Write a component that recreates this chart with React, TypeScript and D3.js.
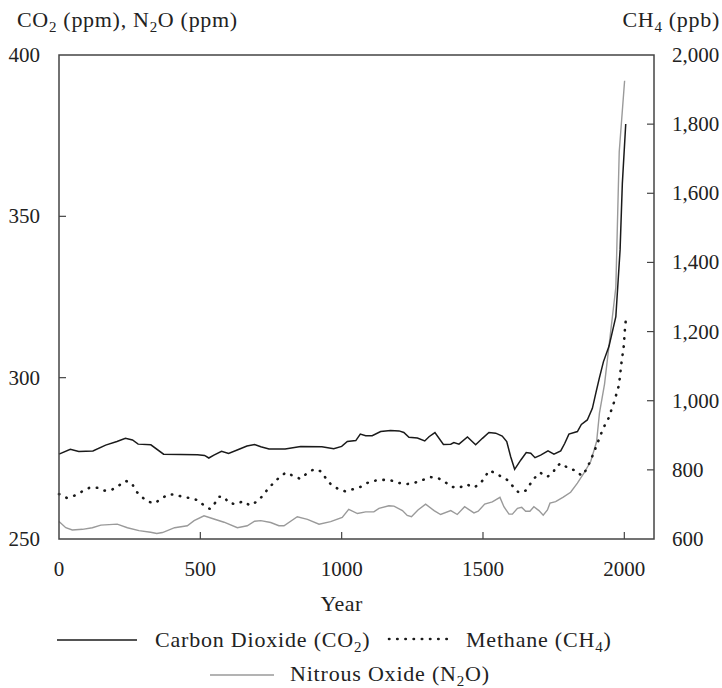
import React from "react";
import * as d3 from "d3";

const co2Years = [0,40,70,120,165,205,235,260,280,325,370,490,515,530,548,575,600,637,665,692,714,743,800,855,930,972,1000,1020,1050,1066,1085,1108,1138,1173,1203,1220,1238,1268,1294,1309,1330,1360,1386,1397,1415,1445,1474,1498,1521,1545,1568,1584,1598,1612,1634,1653,1669,1684,1704,1730,1751,1775,1789,1804,1834,1848,1869,1887,1900,1912,1926,1946,1970,1985,1993,2005];
const co2Values = [276.3,277.8,277.1,277.3,279.1,280.2,281.2,280.7,279.4,279.2,276.3,276.1,275.9,275.1,276,277.2,276.5,277.8,278.8,279.3,278.6,277.9,277.9,278.7,278.6,278,278.7,280.2,280.5,282.5,282,282,283.3,283.6,283.5,283,281.5,281.3,280.4,281.7,283,279.3,279.4,279.9,279.4,281.6,279.2,281.2,283,282.8,281.9,280.2,275.5,271.6,274.5,276.8,276.6,275.2,276,277.3,276.3,277.3,279.6,282.5,283.3,285.5,286.9,290.5,295.5,300,304.9,309.8,318.9,339.6,360.2,378.6];

const ch4Years = [0,27,56,83,110,136,162,186,212,236,258,271,289,313,336,360,383,409,437,466,492,513,534,551,566,584,601,625,651,676,702,722,739,758,778,802,828,853,876,902,926,943,961,985,1012,1040,1067,1093,1120,1148,1176,1203,1232,1259,1288,1315,1341,1364,1388,1415,1442,1468,1489,1507,1521,1541,1566,1590,1607,1627,1651,1666,1683,1702,1728,1749,1761,1777,1801,1828,1849,1867,1887,1905,1920,1934,1946,1954,1963,1972,1981,1990,1998,2002,2005];
const ch4Values = [730,719,726,738,749,748,740,742,755,768,761,740,724,709,703,715,728,729,722,718,712,697,687,703,722,722,704,701,709,697,709,726,745,761,777,792,783,774,789,802,796,777,759,746,738,744,751,763,769,771,769,762,759,763,771,779,776,766,751,748,758,749,759,779,798,792,780,769,751,734,740,758,777,792,780,794,812,819,805,798,783,802,840,877,909,935,952,973,994,1019,1045,1110,1158,1205,1231];

const n2oYears = [0,24,47,83,118,148,206,242,283,324,346,366,409,454,478,513,548,584,631,666,692,714,749,778,796,843,879,920,961,1002,1025,1056,1085,1114,1132,1167,1185,1215,1232,1247,1270,1297,1327,1350,1386,1409,1435,1468,1483,1506,1533,1560,1574,1592,1604,1622,1637,1651,1666,1680,1698,1713,1728,1737,1757,1784,1810,1834,1857,1881,1902,1912,1930,1970,1982,2001];
const n2oValues = [255.4,253.5,252.8,253,253.5,254.3,254.6,253.5,252.6,252.1,251.7,252,253.5,254.1,255.7,257.2,256.2,255.2,253.5,254.1,255.5,255.7,255.1,254.1,254.1,256.9,256.1,254.6,255.4,256.7,259.2,257.9,258.4,258.4,259.5,260.3,260.2,258.8,257.3,256.9,259,260.8,258.8,257.6,258.8,257.6,260,258.1,258.6,260.8,261.5,262.9,260,257.7,257.7,259.5,259.8,258.6,258.6,260,258.8,257.4,259,261.1,261.6,263,264.5,267.3,270.4,274,280.2,289,298,328,370,392];

const xTicks = [0, 500, 1000, 1500, 2000];
const leftTicks = [250, 300, 350, 400];
const rightTicks = [600, 800, 1000, 1200, 1400, 1600, 1800, 2000];

const FONT = "'Liberation Serif', 'Times New Roman', serif";

export default function App() {
  const left = 59, right = 654, top = 55, bottom = 539;
  const x = d3.scaleLinear().domain([0, 2105]).range([left, right]);
  const yL = d3.scaleLinear().domain([250, 400]).range([bottom, top]);
  const yR = d3.scaleLinear().domain([600, 2000]).range([bottom, top]);

  const co2 = co2Years.map((yr, i) => [yr, co2Values[i]] as [number, number]);
  const ch4 = ch4Years.map((yr, i) => [yr, ch4Values[i]] as [number, number]);
  const n2o = n2oYears.map((yr, i) => [yr, n2oValues[i]] as [number, number]);

  const lineL = d3.line<[number, number]>().x(d => x(d[0])).y(d => yL(d[1]));
  const lineR = d3.line<[number, number]>().x(d => x(d[0])).y(d => yR(d[1]));
  const fmt = d3.format(",");
  const axisColor = "#444";
  const tickLen = 7;

  return (
    <svg width={722} height={688} style={{ position: "absolute", left: 0, top: 0 }} fontFamily={FONT}>
      <rect x={0} y={0} width={722} height={688} fill="#fff" />
      {/* titles */}
      <text x={17} y={27} fontSize={22} letterSpacing={0.7} fill="#222">
        CO<tspan fontSize={15} dy={5}>2</tspan><tspan dy={-5}> (ppm), N</tspan><tspan fontSize={15} dy={5}>2</tspan><tspan dy={-5}>O (ppm)</tspan>
      </text>
      <text x={720} y={27} fontSize={22} letterSpacing={0.7} fill="#222" textAnchor="end">
        CH<tspan fontSize={15} dy={5}>4</tspan><tspan dy={-5}> (ppb)</tspan>
      </text>

      {/* data */}
      <path d={lineL(n2o) || ""} fill="none" stroke="#9a9a9a" strokeWidth={1.4} />
      <path d={lineL(co2) || ""} fill="none" stroke="#1a1a1a" strokeWidth={1.5} />
      <path d={lineR(ch4) || ""} fill="none" stroke="#1a1a1a" strokeWidth={2.6} strokeDasharray="0.4 7.8" strokeLinecap="round" />

      {/* frame */}
      <rect x={left} y={top} width={right - left} height={bottom - top} fill="none" stroke={axisColor} strokeWidth={1.5} />

      {/* x ticks */}
      {xTicks.map(t => (
        <g key={"x" + t}>
          {t !== 0 && <line x1={x(t)} x2={x(t)} y1={bottom} y2={bottom - tickLen} stroke={axisColor} strokeWidth={1.2} />}
          <text x={x(t)} y={576} fontSize={21} textAnchor="middle" fill="#222">{t}</text>
        </g>
      ))}
      {/* left ticks */}
      {leftTicks.map(t => (
        <g key={"l" + t}>
          {t !== 250 && t !== 400 && <line x1={left} x2={left + tickLen} y1={yL(t)} y2={yL(t)} stroke={axisColor} strokeWidth={1.2} />}
          <text x={40} y={yL(t)} dy="0.33em" fontSize={21} textAnchor="end" fill="#222">{t}</text>
        </g>
      ))}
      {/* right ticks */}
      {rightTicks.map(t => (
        <g key={"r" + t}>
          {t !== 600 && t !== 2000 && <line x1={right} x2={right - tickLen} y1={yR(t)} y2={yR(t)} stroke={axisColor} strokeWidth={1.2} />}
          <text x={672} y={yR(t)} dy="0.33em" fontSize={21} textAnchor="start" fill="#222">{fmt(t)}</text>
        </g>
      ))}

      <text x={(x(0) + x(2000)) / 2} y={611} fontSize={22} letterSpacing={0.5} textAnchor="middle" fill="#222">Year</text>

      {/* legend */}
      <line x1={57} x2={137} y1={640} y2={640} stroke="#1a1a1a" strokeWidth={1.5} />
      <text x={155} y={647} fontSize={22} letterSpacing={0.8} fill="#222">
        Carbon Dioxide (CO<tspan fontSize={15} dy={5}>2</tspan><tspan dy={-5}>)</tspan>
      </text>
      <line x1={389} x2={447.5} y1={639} y2={639} stroke="#1a1a1a" strokeWidth={2.6} strokeDasharray="0.4 7.8" strokeLinecap="round" />
      <text x={466} y={647} fontSize={22} letterSpacing={0.8} fill="#222">
        Methane (CH<tspan fontSize={15} dy={5}>4</tspan><tspan dy={-5}>)</tspan>
      </text>
      <line x1={210} x2={274} y1={675} y2={675} stroke="#9a9a9a" strokeWidth={1.4} />
      <text x={290} y={681} fontSize={22} letterSpacing={0.8} fill="#222">
        Nitrous Oxide (N<tspan fontSize={15} dy={5}>2</tspan><tspan dy={-5}>O)</tspan>
      </text>
    </svg>
  );
}
